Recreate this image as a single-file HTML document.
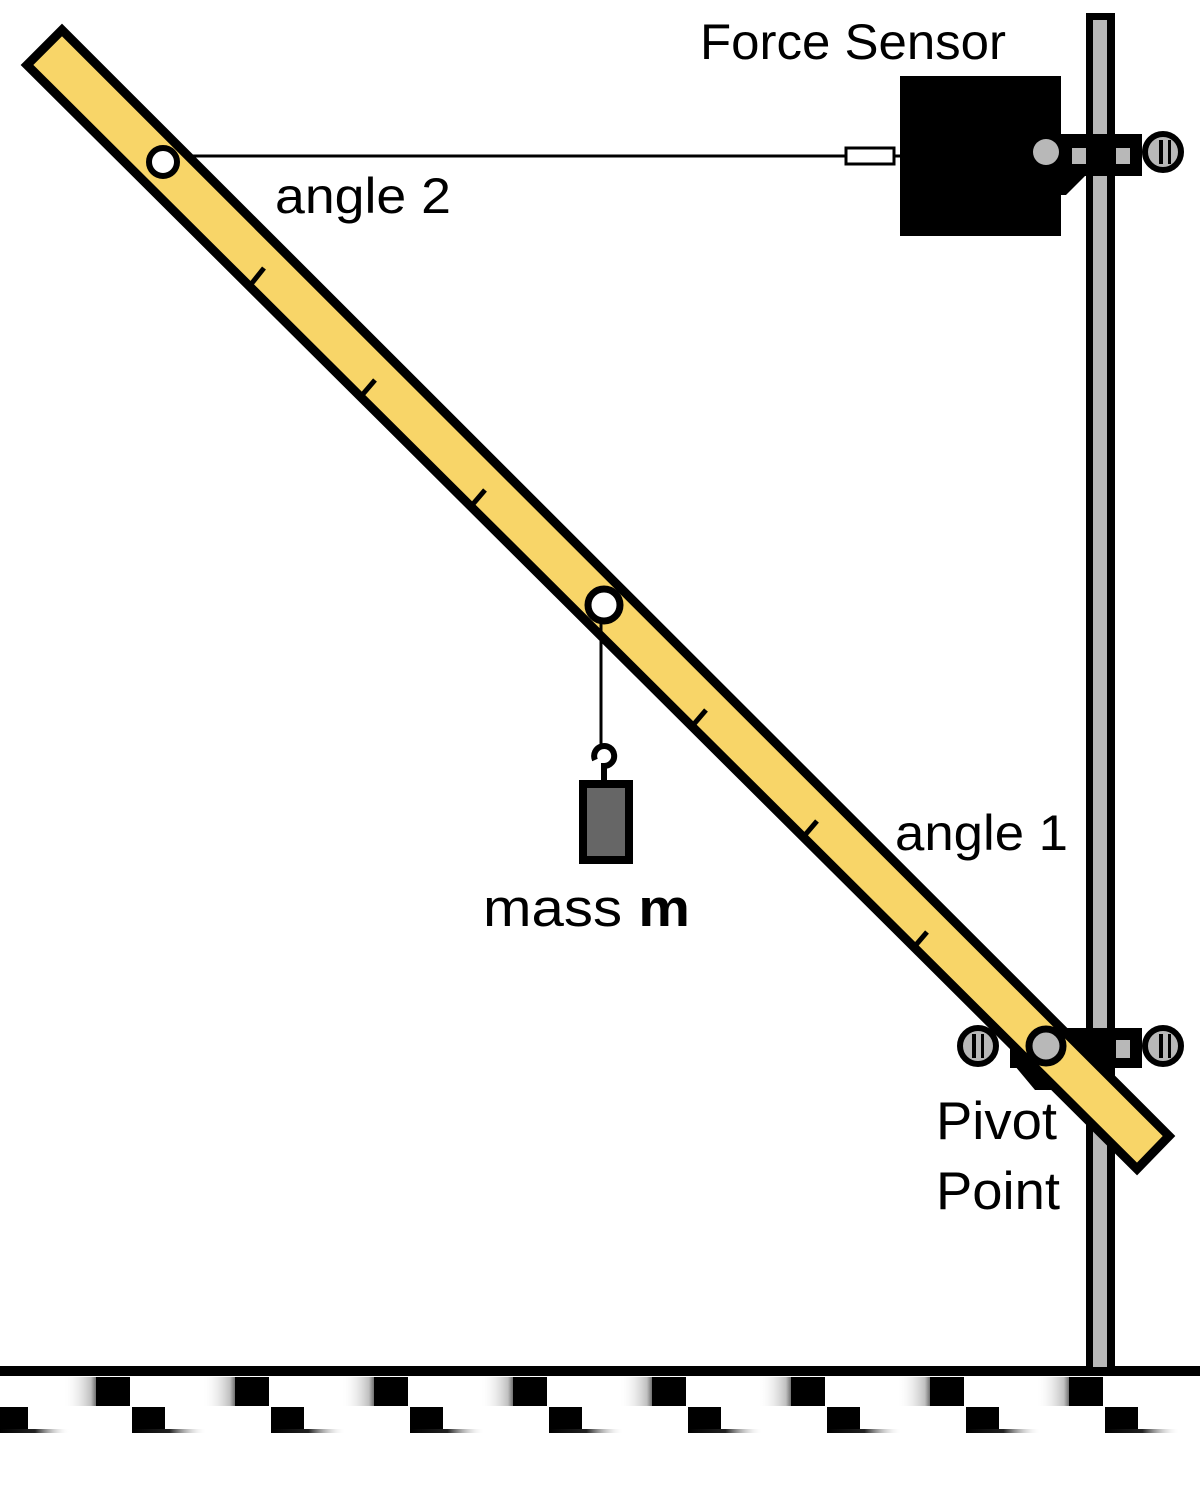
<!DOCTYPE html>
<html><head><meta charset="utf-8"><style>
html,body{margin:0;padding:0;background:#fff}
svg{display:block}
text{font-family:"Liberation Sans","DejaVu Sans",sans-serif;fill:#000}
</style></head><body>
<svg width="1200" height="1502" viewBox="0 0 1200 1502" xmlns="http://www.w3.org/2000/svg">
<defs>
<linearGradient id="g1" x1="0" x2="1"><stop offset="0" stop-color="#fff" stop-opacity="0"/><stop offset="0.7" stop-color="#000" stop-opacity="0.25"/><stop offset="1" stop-color="#000"/></linearGradient>
<linearGradient id="g2" x1="0" x2="1"><stop offset="0" stop-color="#000"/><stop offset="0.5" stop-color="#222"/><stop offset="1" stop-color="#fff" stop-opacity="0"/></linearGradient>
</defs>
<rect x="0" y="1366" width="1200" height="10" fill="#000"/>
<g>
<rect x="63" y="1377" width="40" height="29" fill="url(#g1)"/><rect x="96" y="1377" width="34" height="29" fill="#000"/>
<rect x="202" y="1377" width="40" height="29" fill="url(#g1)"/><rect x="235" y="1377" width="34" height="29" fill="#000"/>
<rect x="341" y="1377" width="40" height="29" fill="url(#g1)"/><rect x="374" y="1377" width="34" height="29" fill="#000"/>
<rect x="480" y="1377" width="40" height="29" fill="url(#g1)"/><rect x="513" y="1377" width="34" height="29" fill="#000"/>
<rect x="619" y="1377" width="40" height="29" fill="url(#g1)"/><rect x="652" y="1377" width="34" height="29" fill="#000"/>
<rect x="758" y="1377" width="40" height="29" fill="url(#g1)"/><rect x="791" y="1377" width="34" height="29" fill="#000"/>
<rect x="897" y="1377" width="40" height="29" fill="url(#g1)"/><rect x="930" y="1377" width="34" height="29" fill="#000"/>
<rect x="1036" y="1377" width="40" height="29" fill="url(#g1)"/><rect x="1069" y="1377" width="34" height="29" fill="#000"/>
</g>
<g>
<rect x="0" y="1407" width="28" height="22" fill="#000"/><rect x="0" y="1429" width="70" height="4" fill="url(#g2)"/>
<rect x="132" y="1407" width="33" height="22" fill="#000"/><rect x="132" y="1429" width="75" height="4" fill="url(#g2)"/>
<rect x="271" y="1407" width="33" height="22" fill="#000"/><rect x="271" y="1429" width="75" height="4" fill="url(#g2)"/>
<rect x="410" y="1407" width="33" height="22" fill="#000"/><rect x="410" y="1429" width="75" height="4" fill="url(#g2)"/>
<rect x="549" y="1407" width="33" height="22" fill="#000"/><rect x="549" y="1429" width="75" height="4" fill="url(#g2)"/>
<rect x="688" y="1407" width="33" height="22" fill="#000"/><rect x="688" y="1429" width="75" height="4" fill="url(#g2)"/>
<rect x="827" y="1407" width="33" height="22" fill="#000"/><rect x="827" y="1429" width="75" height="4" fill="url(#g2)"/>
<rect x="966" y="1407" width="33" height="22" fill="#000"/><rect x="966" y="1429" width="75" height="4" fill="url(#g2)"/>
<rect x="1105" y="1407" width="33" height="22" fill="#000"/><rect x="1105" y="1429" width="75" height="4" fill="url(#g2)"/>
</g>
<rect x="1086" y="13" width="29" height="1354" fill="#000"/>
<rect x="1093" y="20" width="14" height="1347" fill="#b8b8b8"/>
<rect x="1050" y="134" width="92" height="42" fill="#000"/>
<rect x="1072" y="148" width="14" height="16" fill="#b8b8b8"/>
<rect x="1116" y="148" width="14" height="16" fill="#b8b8b8"/>
<polygon points="1060,175 1086,175 1066,195 1055,195" fill="#000"/>
<circle cx="1163" cy="152" r="18" fill="#b8b8b8" stroke="#000" stroke-width="6"/>
<rect x="1159" y="140" width="4" height="24" fill="#000"/><rect x="1168" y="140" width="3" height="24" fill="#000"/>
<rect x="900" y="76" width="161" height="160" fill="#000"/>
<circle cx="1046" cy="152" r="13" fill="#b8b8b8"/>
<line x1="175" y1="156" x2="846" y2="156" stroke="#000" stroke-width="3"/>
<rect x="846" y="148" width="48" height="16" fill="#fff" stroke="#000" stroke-width="3"/>
<line x1="894" y1="156" x2="900" y2="156" stroke="#000" stroke-width="3"/>
<rect x="1010" y="1028" width="132" height="40" fill="#000"/>
<rect x="1116" y="1040" width="14" height="18" fill="#b8b8b8"/>
<polygon points="1010,1060 1040,1060 1065,1090 1035,1090" fill="#000"/>
<circle cx="978" cy="1046" r="18" fill="#b8b8b8" stroke="#000" stroke-width="6"/>
<rect x="972" y="1034" width="4" height="24" fill="#000"/><rect x="981" y="1034" width="3" height="24" fill="#000"/>
<circle cx="1163" cy="1046" r="18" fill="#b8b8b8" stroke="#000" stroke-width="6"/>
<rect x="1159" y="1034" width="4" height="24" fill="#000"/><rect x="1168" y="1034" width="3" height="24" fill="#000"/>
<polygon points="27,65 62,30 1169,1136 1137,1169" fill="#f8d568" stroke="#000" stroke-width="9" stroke-linejoin="miter"/>
<g stroke="#000" stroke-width="5">
<line x1="252" y1="283" x2="264" y2="268"/>
<line x1="363" y1="394" x2="375" y2="380"/>
<line x1="473" y1="504" x2="485" y2="490"/>
<line x1="694" y1="724" x2="706" y2="710"/>
<line x1="805" y1="835" x2="817" y2="821"/>
<line x1="915" y1="946" x2="927" y2="932"/>
</g>
<circle cx="163" cy="162" r="14" fill="#fff" stroke="#000" stroke-width="6"/>
<circle cx="604" cy="605" r="16" fill="#fff" stroke="#000" stroke-width="7"/>
<circle cx="1046" cy="1046" r="17" fill="#b8b8b8" stroke="#000" stroke-width="7"/>
<line x1="601" y1="622" x2="601" y2="745" stroke="#000" stroke-width="3"/>
<path d="M595,760 A10,10 0 1 1 604,766 L604,782" fill="none" stroke="#000" stroke-width="6"/>
<rect x="583" y="784" width="46" height="76" fill="#666" stroke="#000" stroke-width="8"/>
<text x="700" y="59" font-size="50" textLength="306" lengthAdjust="spacingAndGlyphs">Force Sensor</text>
<text x="275" y="213" font-size="50" textLength="176" lengthAdjust="spacingAndGlyphs">angle 2</text>
<text x="895" y="850" font-size="50" textLength="173" lengthAdjust="spacingAndGlyphs">angle 1</text>
<text x="483" y="926" font-size="53" textLength="207" lengthAdjust="spacingAndGlyphs">mass <tspan font-weight="bold">m</tspan></text>
<text x="936" y="1139" font-size="53" textLength="121" lengthAdjust="spacingAndGlyphs">Pivot</text>
<text x="936" y="1209" font-size="53" textLength="124" lengthAdjust="spacingAndGlyphs">Point</text>
</svg>
</body></html>
